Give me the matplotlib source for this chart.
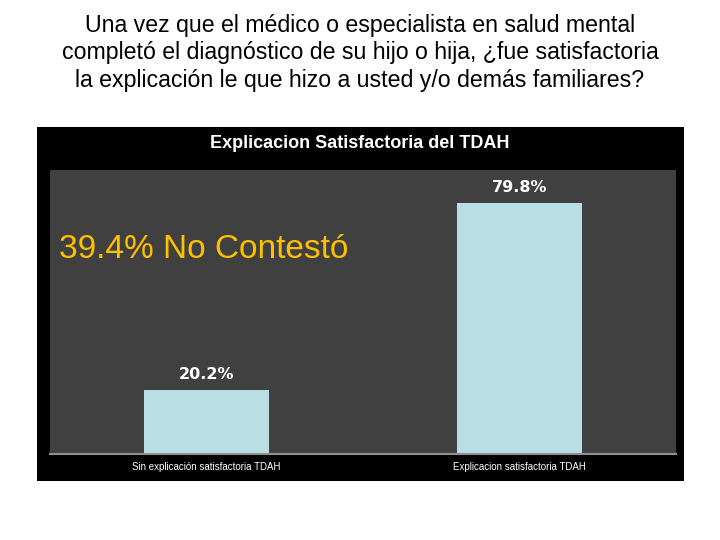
import matplotlib
matplotlib.use("Agg")
import matplotlib.pyplot as plt

plt.rcParams["font.family"] = ["Liberation Sans", "DejaVu Sans"]

categorias = ["Sin explicación satisfactoria TDAH", "Explicacion satisfactoria TDAH"]
porcentajes = [20.2, 79.8]
etiquetas = ["20.2%", "79.8%"]
titulo = ("Una vez que el médico o especialista en salud mental\n"
          "completó el diagnóstico de su hijo o hija, ¿fue satisfactoria\n"
          "la explicación le que hizo a usted y/o demás familiares?")
titulo_panel = "Explicacion Satisfactoria del TDAH"
nota = "39.4% No Contestó"

fig = plt.figure(figsize=(7.2, 5.4), dpi=100)

# titulo general
fig.text(0.5, 1 - 53 / 540, titulo, ha="center", va="center", fontsize=16.7,
         linespacing=1.27, color="black")

# panel negro de fondo (un eje vacio detras)
panel = fig.add_axes([37 / 720, 1 - 481 / 540, 647 / 720, 354 / 540], zorder=0)
panel.set_facecolor("black")
panel.set_xticks([])
panel.set_yticks([])
for s in panel.spines.values():
    s.set_visible(False)
fig.text(0.5, 1 - 144 / 540, titulo_panel, ha="center", va="center",
         fontsize=13, fontweight="bold", color="white", zorder=5)

ax = fig.add_axes([50 / 720, 1 - 454 / 540, 626 / 720, 284 / 540], zorder=1)
ax.set_facecolor("#404040")
x = range(len(categorias))
barras = ax.bar(x, porcentajes, width=0.4, color="#B9DFE3", zorder=2)
ax.set_xlim(-0.5, 1.5)
ax.set_ylim(0, 90.3)

for b, et in zip(barras, etiquetas):
    ax.text(b.get_x() + b.get_width() / 2, b.get_height() + 2.6, et,
            ha="center", va="bottom", color="white", fontsize=11.5,
            family=["DejaVu Sans Condensed", "DejaVu Sans"], fontweight="bold")

ax.text(0.014, 0.72, nota, transform=ax.transAxes, ha="left", va="center",
        color="#FFC000", fontsize=24)

ax.set_xticks(list(x))
ax.set_xticklabels(categorias, color="white", fontsize=7)
ax.tick_params(axis="x", length=0, pad=6)
ax.set_yticks([])
for lado in ["top", "left", "right"]:
    ax.spines[lado].set_visible(False)
ax.spines["bottom"].set_color("#909090")
ax.spines["bottom"].set_linewidth(1.5)

fig.savefig("out.png", dpi=100, facecolor="white")
